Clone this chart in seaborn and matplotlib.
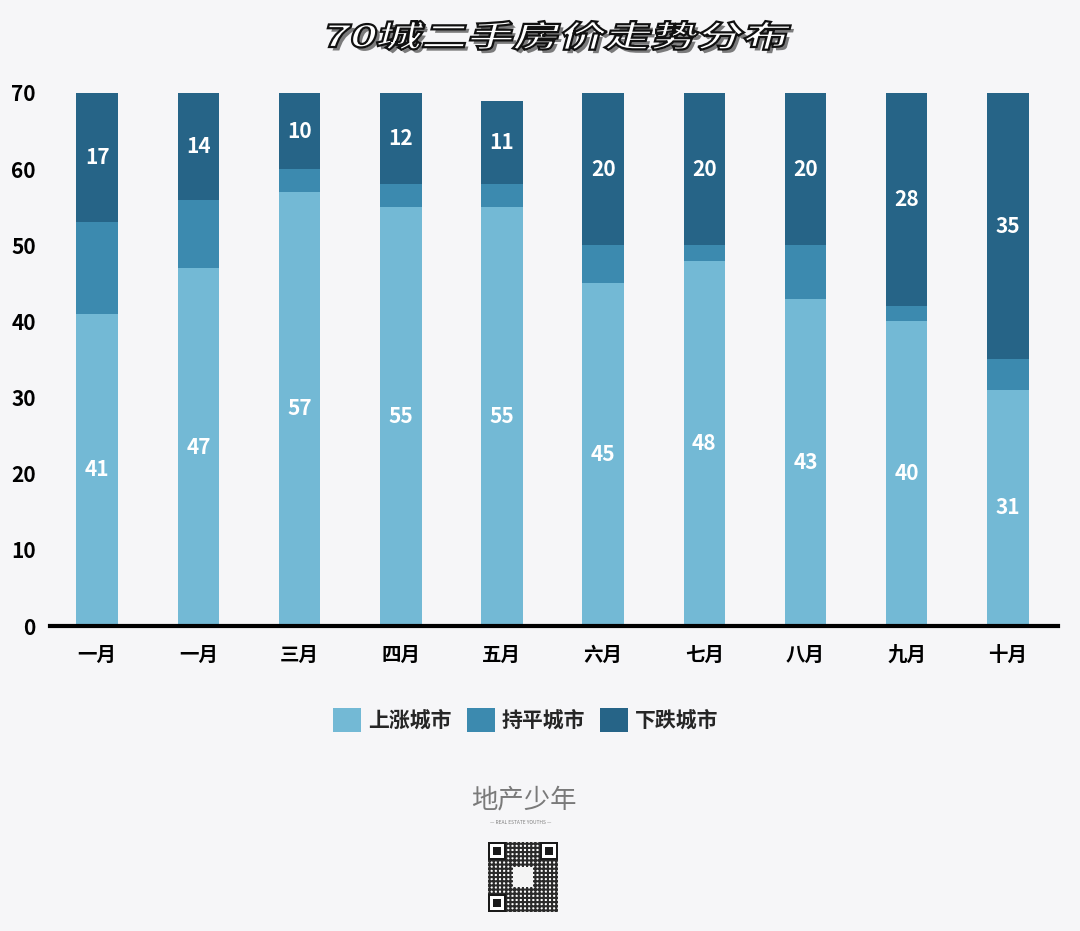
import matplotlib
matplotlib.use("Agg")
import numpy as np
import pandas as pd
import seaborn as sns
import matplotlib.pyplot as plt
from matplotlib.patches import Patch, PathPatch, Rectangle
from matplotlib.textpath import TextPath
from matplotlib.font_manager import FontProperties
from matplotlib.transforms import Affine2D
import matplotlib.patheffects as pe

# 数据
months = ["一月", "一月", "三月", "四月", "五月", "六月", "七月", "八月", "九月", "十月"]
up = [41, 47, 57, 55, 55, 45, 48, 43, 40, 31]
flat = [12, 9, 3, 3, 3, 5, 2, 7, 2, 4]
down = [17, 14, 10, 12, 11, 20, 20, 20, 28, 35]
series_names = ["上涨城市", "持平城市", "下跌城市"]
colors = ["#73b9d5", "#3c8aaf", "#266487"]
yticks = [0, 10, 20, 30, 40, 50, 60, 70]

bg = "#f6f6f8"
sns.set_theme(style="white")
plt.rcParams["font.family"] = ["Noto Sans CJK SC", "DejaVu Sans"]

df = pd.DataFrame({"pos": range(len(months)), "up": up, "flat": flat, "down": down})
df["mid"] = df["up"] + df["flat"]
df["total"] = df["mid"] + df["down"]

fig = plt.figure(figsize=(10.8, 9.31), dpi=100, facecolor=bg)
ax = fig.add_axes([0.046, 0.3276, 0.934, 0.5807])
ax.set_facecolor(bg)

# 叠加柱：先画总高，再画下面两层
sns.barplot(data=df, x="pos", y="total", color=colors[2], width=0.41, saturation=1, ax=ax)
sns.barplot(data=df, x="pos", y="mid", color=colors[1], width=0.41, saturation=1, ax=ax)
sns.barplot(data=df, x="pos", y="up", color=colors[0], width=0.41, saturation=1, ax=ax)
for b in ax.patches:
    b.set_linewidth(0)

for i, r in df.iterrows():
    ax.text(r["pos"], r["up"] / 2, str(r["up"]), ha="center", va="center",
            color="white", fontsize=15, fontweight="bold")
    ax.text(r["pos"], r["mid"] + r["down"] / 2, str(r["down"]), ha="center", va="center",
            color="white", fontsize=15, fontweight="bold")

ax.set_xlim(-0.47, 9.5)
ax.set_ylim(0, 71)
ax.set_yticks(yticks)
ax.set_yticklabels([str(v) for v in yticks], fontsize=15, fontweight="bold", color="black")
ax.set_xticks(range(len(months)))
ax.set_xticklabels(months, fontsize=14, fontweight="bold", color="black")
ax.tick_params(axis="x", length=0, pad=14)
ax.tick_params(axis="y", length=0, pad=10)
ax.set_xlabel("")
ax.set_ylabel("")
for s in ["top", "right", "left"]:
    ax.spines[s].set_visible(False)
ax.spines["bottom"].set_color("black")
ax.spines["bottom"].set_linewidth(3)

# 图例
handles = [Patch(facecolor=c, edgecolor="none", label=n) for c, n in zip(colors, series_names)]
leg = fig.legend(handles=handles, loc="center", bbox_to_anchor=(0.487, 0.2266), ncol=3,
                 frameon=False, handlelength=1.35, handleheight=1.4, handletextpad=0.35,
                 columnspacing=0.7, prop={"family": "Noto Sans CJK SC", "weight": "bold", "size": 15})

# 标题：斜体、描边、阴影
title = "70城二手房价走势分布"
fp = FontProperties(family="Noto Sans CJK SC", weight="bold")
tp = TextPath((0, 0), title, size=30, prop=fp)
ext = tp.get_extents()
H = 29.0
W = 462.0
tr = (Affine2D().translate(-ext.x0, -ext.y0)
      .scale(W / ext.width, H / ext.height)
      .skew_deg(15, 0)
      .translate(322, 931 - 50)
      .scale(1 / fig.dpi) + fig.dpi_scale_trans)
title_patch = PathPatch(tp, transform=tr, facecolor="white", edgecolor="#111111", lw=1.6)
title_patch.set_path_effects([
    pe.SimplePatchShadow(offset=(2.5, -2.5), shadow_rgbFace="#666666", alpha=0.85),
    pe.Normal(),
])
fig.add_artist(title_patch)

# 底部标识
fig.text(0.485, 1 - 800 / 931, "地产少年", ha="center", va="center", fontsize=19,
         color="#7a7a7a", style="italic")
fig.text(0.482, 1 - 823 / 931, "— REAL ESTATE YOUTHS —", ha="center", va="center",
         fontsize=3.5, color="#808080")

# 二维码示意
qs = 70
plt.rcParams["hatch.linewidth"] = 1.5
fig.add_artist(Rectangle((488 / 1080, 1 - 912 / 931), qs / 1080, qs / 931, transform=fig.transFigure,
                         facecolor="white", edgecolor="#2a2a2a", hatch="++++", linewidth=0))
for fx, fy in [(0, 0), (qs - 18, qs - 18), (0, qs - 18)]:
    for sz, col in [(18, "#1a1a1a"), (14, "white"), (8, "#1a1a1a")]:
        off = (18 - sz) / 2
        fig.add_artist(Rectangle(((488 + fx + off) / 1080, (931 - 912 + fy + off) / 931),
                                 sz / 1080, sz / 931, transform=fig.transFigure,
                                 facecolor=col, edgecolor="none"))
fig.add_artist(Rectangle(((488 + 25) / 1080, (931 - 912 + 25) / 931), 20 / 1080, 20 / 931,
                         transform=fig.transFigure, facecolor="#f4f4f4", edgecolor="none"))

fig.savefig("out.png", dpi=100, facecolor=bg)
